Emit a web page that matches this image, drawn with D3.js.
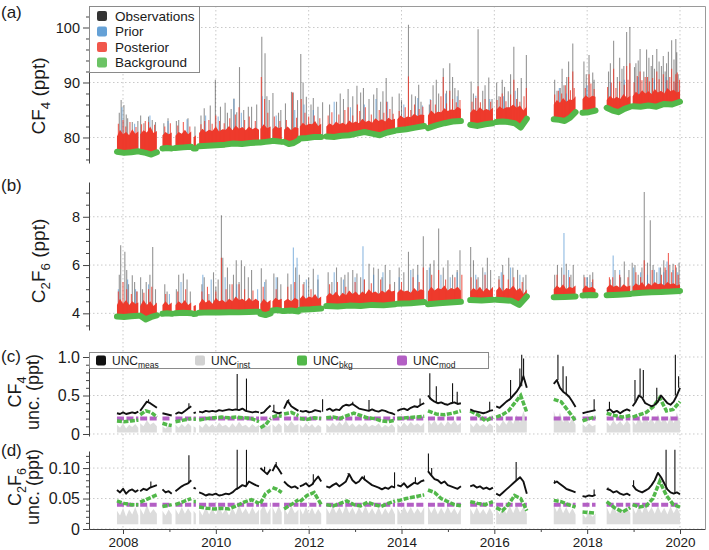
<!DOCTYPE html>
<html>
<head>
<meta charset="utf-8">
<script src="https://cdn.jsdelivr.net/npm/d3@7"></script>
<style>
  body { margin: 0; background: #fff; }
  svg { display: block; font-family: 'Liberation Sans', Arial, Helvetica, sans-serif; }
</style>
</head>
<body>
<svg id="chart" width="709" height="550"></svg>
<script>
// measurement periods (decimal year), shared by all four panels
const segs = [
  [2007.87, 2008.33], [2008.37, 2008.73], [2008.85, 2009.05], [2009.13, 2009.47],
  [2009.52, 2009.57], [2009.64, 2010.93], [2010.96, 2011.18], [2011.22, 2011.42],
  [2011.47, 2011.78], [2011.81, 2012.27], [2012.38, 2013.86], [2013.91, 2014.49],
  [2014.57, 2015.28], [2015.48, 2015.97], [2016.04, 2016.70], [2017.28, 2017.75],
  [2017.90, 2018.18], [2018.42, 2018.93], [2018.98, 2020.00]
];

// ---- (a) CF4, ppt : values per period, evenly spread over the period
const bkgA = [
  [77.4, 77.2, 77.3, 77.5], [77.4, 77.2, 76.9, 77.3], [78.0, 78.1, 78.0], [78.1, 78.2, 78.3],
  [78.0, 78.0], [78.4, 78.5, 78.6, 78.7, 78.9, 78.8, 79.0, 79.1], [79.1, 79.2, 79.3], [79.4, 79.3, 79.2],
  [79.2, 78.8, 79.0, 79.5], [79.8, 79.9, 80.1, 80.1], [80.2, 80.1, 80.3, 80.4, 80.7, 81.0, 80.7, 80.4, 80.9, 81.2],
  [81.3, 81.5, 81.8, 82.1], [81.7, 82.2, 82.6, 82.9, 83.0], [82.3, 82.1, 82.4, 82.6],
  [82.8, 82.9, 82.8, 82.6, 81.8, 83.4], [83.3, 83.2, 83.0, 83.6, 84.6], [84.5, 84.6, 84.9],
  [85.4, 84.9, 84.6, 85.2, 85.6], [85.7, 85.6, 85.8, 85.6, 86.1, 86.0, 86.5]
];
const postTopA = [
  [80.2, 81.4, 80.6, 81.0, 80.4, 81.5, 80.7, 81.1], [80.6, 81.3, 80.9, 82.0, 80.8, 81.2],
  [80.4, 81.0, 80.6, 80.9], [80.3, 81.0, 80.7, 81.4, 80.6, 81.1], [80.0, 80.4],
  [80.8, 81.6, 81.0, 81.4, 81.2, 82.0, 81.1, 81.5, 81.4, 82.1, 81.3, 82.2, 81.6, 81.9, 81.3, 82.0, 81.5, 81.8, 81.4],
  [81.6, 82.4, 81.7, 82.0], [81.5, 82.1, 81.7, 81.9], [81.4, 82.0, 81.3, 81.9, 81.7],
  [82.0, 82.7, 82.2, 82.5, 82.4, 83.0, 82.1, 82.5],
  [82.0, 82.6, 82.2, 82.9, 82.4, 82.7, 82.3, 83.1, 82.6, 82.9, 82.6, 83.4, 82.8, 83.1, 82.7, 83.5, 83.0, 83.3, 82.9, 83.6, 83.2, 83.4],
  [83.3, 84.0, 83.5, 83.8, 83.7, 84.3, 83.9, 84.2, 84.1],
  [84.0, 84.9, 84.3, 84.7, 84.6, 85.3, 84.8, 85.1, 85.0, 85.6, 85.2],
  [84.5, 85.2, 84.8, 85.5, 84.9, 85.2, 84.9, 85.4],
  [85.0, 85.7, 85.2, 85.5, 85.5, 86.0, 85.4, 85.8, 84.9, 85.7],
  [86.0, 86.8, 86.3, 87.2, 86.5, 86.9, 86.8, 87.5], [87.0, 87.7, 87.2, 87.6, 87.4],
  [86.8, 87.6, 87.0, 87.4, 87.0, 87.9, 87.2, 87.6],
  [87.5, 88.3, 87.8, 88.6, 88.0, 88.4, 87.9, 88.8, 88.2, 88.5, 88.0, 89.0, 88.4, 88.7, 88.2, 88.4]
];
// spikes: [year, peak]
const obsSpkA = [
  [2007.92, 84.5], [2007.96, 86.8], [2008.02, 85.9], [2008.07, 84.2], [2008.10, 83.5], [2008.20, 82.8],
  [2008.32, 83.0], [2008.38, 84.0], [2008.45, 82.6], [2008.55, 83.8], [2008.63, 83.2], [2008.70, 82.8],
  [2008.88, 82.6], [2008.97, 83.5], [2009.15, 83.0], [2009.20, 83.2], [2009.40, 83.5], [2009.55, 82.0],
  [2009.68, 84.0], [2009.75, 85.3], [2009.88, 85.8], [2009.99, 90.5], [2010.10, 85.6], [2010.20, 86.3],
  [2010.25, 84.5], [2010.33, 85.2], [2010.39, 87.1], [2010.45, 84.6], [2010.51, 92.8], [2010.60, 85.0],
  [2010.70, 85.6], [2010.77, 85.6], [2010.88, 86.0], [2010.99, 98.3], [2011.06, 95.3], [2011.10, 87.5],
  [2011.15, 86.8], [2011.23, 88.1], [2011.35, 84.5], [2011.40, 85.0], [2011.50, 86.2], [2011.63, 88.3],
  [2011.67, 88.2], [2011.76, 86.8], [2011.83, 95.2], [2011.88, 90.0], [2011.95, 87.4], [2012.05, 86.0],
  [2012.10, 87.2], [2012.20, 85.6], [2012.30, 86.4], [2012.45, 86.0], [2012.60, 86.5], [2012.68, 88.0],
  [2012.75, 87.0], [2012.85, 88.8], [2012.95, 87.5], [2013.04, 89.4], [2013.12, 88.2], [2013.18, 89.0],
  [2013.30, 87.0], [2013.40, 87.8], [2013.47, 89.0], [2013.55, 86.5], [2013.60, 88.4], [2013.67, 90.8],
  [2013.80, 87.4], [2013.95, 88.0], [2014.00, 86.8], [2014.15, 100.5], [2014.22, 87.8], [2014.30, 87.5],
  [2014.37, 89.6], [2014.42, 86.5], [2014.60, 86.0], [2014.68, 89.5], [2014.75, 90.5], [2014.80, 88.0],
  [2014.90, 92.6], [2014.97, 88.5], [2015.04, 93.5], [2015.10, 91.0], [2015.15, 89.0], [2015.22, 88.6],
  [2015.50, 90.2], [2015.55, 88.0], [2015.65, 99.7], [2015.75, 88.5], [2015.80, 89.5], [2015.88, 90.9],
  [2015.95, 87.0], [2016.05, 90.0], [2016.10, 87.5], [2016.17, 90.5], [2016.22, 89.2], [2016.30, 88.4],
  [2016.35, 91.5], [2016.42, 96.5], [2016.50, 89.0], [2016.58, 90.8], [2016.69, 95.0], [2017.30, 90.5],
  [2017.35, 88.5], [2017.42, 89.0], [2017.46, 92.5], [2017.50, 89.5], [2017.56, 91.0], [2017.60, 93.8],
  [2017.69, 97.1], [2017.93, 93.8], [2017.98, 91.5], [2018.04, 95.0], [2018.12, 91.8], [2018.15, 90.5],
  [2018.46, 92.0], [2018.50, 93.5], [2018.57, 97.6], [2018.65, 91.0], [2018.70, 94.5], [2018.75, 92.5],
  [2018.79, 93.0], [2018.85, 99.2], [2018.92, 100.1], [2019.02, 92.8], [2019.05, 93.5], [2019.10, 94.0],
  [2019.14, 96.1], [2019.22, 92.0], [2019.28, 96.0], [2019.33, 94.5], [2019.38, 93.0], [2019.41, 95.0],
  [2019.45, 92.5], [2019.50, 96.1], [2019.55, 93.8], [2019.60, 93.0], [2019.64, 94.8], [2019.68, 92.0],
  [2019.71, 93.5], [2019.75, 95.6], [2019.82, 97.7], [2019.87, 94.2], [2019.91, 97.9], [2019.93, 95.5],
  [2019.96, 91.5]
];
const priorSpkA = [
  [2007.98, 85.5], [2008.25, 82.5], [2008.58, 84.0], [2008.97, 83.0], [2009.38, 83.3], [2009.78, 84.0],
  [2010.05, 83.8], [2010.39, 87.0], [2010.55, 84.5], [2011.00, 87.5], [2011.30, 84.0], [2011.70, 85.0],
  [2011.90, 86.0], [2012.10, 85.0], [2012.55, 86.5], [2012.90, 85.5], [2013.20, 86.0], [2013.45, 87.0],
  [2013.70, 86.5], [2014.05, 86.0], [2014.35, 87.2], [2014.45, 85.8], [2014.62, 87.0], [2014.95, 88.0],
  [2015.20, 87.5], [2015.60, 87.6], [2015.90, 87.0], [2016.20, 87.5], [2016.45, 88.5], [2017.40, 89.0],
  [2017.55, 88.0], [2018.00, 89.5], [2018.50, 90.0], [2018.80, 90.5], [2019.10, 91.0], [2019.45, 90.5],
  [2019.70, 91.0], [2019.90, 90.0]
];
const postSpkA = [
  [2007.90, 82.5], [2008.00, 83.2], [2008.06, 82.0], [2008.15, 82.8], [2008.28, 81.9], [2008.40, 82.4],
  [2008.48, 83.0], [2008.55, 82.8], [2008.68, 82.3], [2008.90, 82.0], [2009.02, 82.6], [2009.18, 82.2],
  [2009.30, 82.8], [2009.44, 82.0], [2009.68, 82.4], [2009.76, 83.0], [2009.85, 83.2], [2009.92, 82.5],
  [2010.00, 84.0], [2010.08, 83.0], [2010.18, 82.6], [2010.30, 83.5], [2010.42, 84.2], [2010.50, 85.5],
  [2010.62, 83.2], [2010.72, 83.8], [2010.85, 83.0], [2010.98, 91.0], [2011.05, 87.0], [2011.12, 84.5],
  [2011.26, 83.8], [2011.38, 83.0], [2011.52, 83.2], [2011.65, 88.2], [2011.74, 83.6], [2011.84, 87.0],
  [2011.92, 84.5], [2012.00, 83.8], [2012.12, 84.0], [2012.24, 83.5], [2012.42, 84.0], [2012.50, 84.6],
  [2012.65, 84.2], [2012.78, 85.0], [2012.85, 85.5], [2012.95, 84.0], [2013.05, 86.0], [2013.10, 84.8],
  [2013.22, 85.5], [2013.35, 84.2], [2013.52, 85.0], [2013.62, 84.5], [2013.68, 86.5], [2013.75, 85.2],
  [2013.82, 84.3], [2013.95, 84.8], [2014.08, 85.5], [2014.15, 91.1], [2014.20, 85.0], [2014.28, 86.0],
  [2014.38, 85.2], [2014.46, 85.6], [2014.63, 86.8], [2014.73, 86.0], [2014.85, 87.5], [2014.90, 91.0],
  [2014.97, 86.2], [2015.04, 88.5], [2015.10, 87.0], [2015.18, 86.4], [2015.26, 86.8], [2015.52, 86.5],
  [2015.60, 87.2], [2015.65, 89.3], [2015.70, 86.4], [2015.80, 87.0], [2015.92, 86.5], [2016.06, 86.8],
  [2016.13, 87.4], [2016.17, 88.0], [2016.25, 86.6], [2016.35, 87.8], [2016.42, 90.5], [2016.48, 87.0],
  [2016.55, 86.5], [2016.64, 87.5], [2016.69, 89.0], [2017.30, 87.8], [2017.38, 88.5], [2017.45, 88.0],
  [2017.53, 89.5], [2017.60, 91.0], [2017.64, 88.6], [2017.69, 92.0], [2017.72, 89.0], [2017.96, 89.0],
  [2018.04, 91.5], [2018.08, 89.8], [2018.15, 88.8], [2018.44, 89.2], [2018.52, 90.0], [2018.57, 92.5],
  [2018.62, 89.0], [2018.70, 90.2], [2018.80, 89.6], [2018.85, 93.0], [2018.88, 90.5], [2018.92, 93.5],
  [2019.01, 90.0], [2019.08, 91.2], [2019.14, 92.0], [2019.18, 90.4], [2019.25, 91.0], [2019.30, 91.0],
  [2019.34, 90.2], [2019.41, 90.8], [2019.50, 92.0], [2019.55, 90.6], [2019.64, 91.5], [2019.72, 90.4],
  [2019.78, 91.0], [2019.82, 92.5], [2019.87, 90.2], [2019.91, 91.5], [2019.94, 91.8], [2019.99, 90.5]
];

// ---- (b) C2F6, ppt
const bkgB = [
  [3.87, 3.85, 3.88, 3.90], [3.90, 3.75, 3.85, 3.92], [3.98, 4.00, 3.98], [4.00, 4.02, 4.00],
  [3.97, 3.98], [4.02, 4.04, 4.03, 4.05, 4.04, 4.06, 4.07], [3.98, 3.93, 4.00], [4.12, 4.14, 4.10],
  [4.10, 4.12, 4.08], [4.15, 4.17, 4.20], [4.30, 4.28, 4.32, 4.30, 4.35, 4.33, 4.38], [4.40, 4.42, 4.47],
  [4.38, 4.42, 4.45, 4.48], [4.55, 4.53, 4.56], [4.56, 4.54, 4.52, 4.35, 4.70], [4.67, 4.68, 4.70],
  [4.74, 4.76, 4.75], [4.75, 4.77, 4.80], [4.82, 4.85, 4.87, 4.88, 4.90, 4.93]
];
const postTopB = [
  [4.35, 4.60, 4.40, 4.55, 4.35, 4.50, 4.40, 4.45], [4.30, 4.55, 4.35, 4.50, 4.30, 4.45],
  [4.35, 4.50, 4.35, 4.45], [4.35, 4.50, 4.40, 4.55, 4.35, 4.45], [4.30, 4.35],
  [4.40, 4.60, 4.45, 4.55, 4.40, 4.65, 4.50, 4.55, 4.45, 4.60, 4.50, 4.70, 4.55, 4.60, 4.50, 4.65, 4.50, 4.60, 4.50],
  [4.40, 4.60, 4.45, 4.55], [4.50, 4.65, 4.55, 4.60], [4.50, 4.60, 4.50, 4.65, 4.55],
  [4.60, 4.75, 4.60, 4.70, 4.65, 4.80, 4.60, 4.70],
  [4.70, 4.85, 4.75, 4.90, 4.70, 4.85, 4.75, 4.95, 4.80, 4.90, 4.75, 4.90, 4.80, 5.00, 4.85, 4.90, 4.80, 4.95, 4.85, 5.00, 4.90, 4.95],
  [4.85, 5.00, 4.90, 4.95, 4.85, 5.05, 4.90, 5.00, 4.95],
  [4.90, 5.10, 4.95, 5.05, 5.00, 5.15, 4.95, 5.05, 5.00, 5.10, 4.95],
  [4.90, 5.05, 4.95, 5.10, 4.90, 5.05, 4.95, 5.10],
  [4.95, 5.10, 4.90, 5.05, 5.00, 5.15, 4.95, 5.05, 4.80, 5.00],
  [5.00, 5.15, 5.05, 5.20, 5.00, 5.10, 5.05, 5.15], [5.00, 5.15, 5.05, 5.10, 5.00],
  [5.05, 5.20, 5.10, 5.15, 5.05, 5.20, 5.10, 5.15],
  [5.10, 5.25, 5.15, 5.30, 5.10, 5.25, 5.15, 5.30, 5.20, 5.25, 5.15, 5.30, 5.20, 5.25, 5.15, 5.20]
];
const obsSpkB = [
  [2007.92, 5.60], [2007.95, 6.82], [2008.04, 6.55], [2008.08, 5.80], [2008.12, 5.20], [2008.20, 5.58],
  [2008.25, 5.30], [2008.30, 4.90], [2008.38, 5.50], [2008.42, 5.00], [2008.50, 5.30], [2008.58, 5.60],
  [2008.64, 6.75], [2008.70, 5.00], [2008.90, 5.20], [2008.95, 4.90], [2009.15, 5.00], [2009.20, 5.60],
  [2009.30, 5.65], [2009.38, 5.40], [2009.45, 4.90], [2009.70, 5.20], [2009.75, 5.50], [2009.85, 4.80],
  [2009.95, 5.70], [2010.00, 5.10], [2010.05, 5.40], [2010.12, 8.06], [2010.15, 6.30], [2010.25, 5.90],
  [2010.30, 5.20], [2010.38, 5.60], [2010.44, 6.20], [2010.50, 5.30], [2010.55, 6.20], [2010.62, 5.95],
  [2010.70, 5.50], [2010.77, 5.79], [2010.98, 5.87], [2011.08, 5.40], [2011.25, 5.65], [2011.33, 5.50],
  [2011.40, 5.20], [2011.55, 5.65], [2011.62, 5.20], [2011.72, 5.90], [2011.80, 5.60], [2011.90, 5.30],
  [2012.00, 5.50], [2012.10, 5.85], [2012.20, 5.40], [2012.42, 5.70], [2012.50, 5.30], [2012.60, 5.90],
  [2012.70, 5.50], [2012.78, 5.60], [2012.85, 5.70], [2012.95, 5.80], [2013.04, 5.65], [2013.12, 5.50],
  [2013.20, 5.40], [2013.30, 6.05], [2013.40, 5.90], [2013.50, 5.85], [2013.58, 5.50], [2013.65, 6.00],
  [2013.75, 5.80], [2013.85, 5.30], [2013.95, 5.90], [2014.05, 5.70], [2014.15, 6.55], [2014.25, 5.85],
  [2014.35, 6.00], [2014.47, 7.19], [2014.55, 5.80], [2014.62, 6.05], [2014.70, 6.20], [2014.80, 7.51],
  [2014.90, 5.90], [2015.00, 6.20], [2015.10, 5.60], [2015.20, 5.80], [2015.26, 6.61], [2015.49, 6.75],
  [2015.55, 6.20], [2015.65, 5.50], [2015.75, 5.90], [2015.85, 6.30], [2015.92, 5.80], [2016.10, 5.55],
  [2016.18, 6.00], [2016.31, 6.30], [2016.40, 5.90], [2016.50, 5.80], [2016.62, 5.50], [2016.68, 5.60],
  [2017.30, 5.60], [2017.36, 6.00], [2017.45, 5.90], [2017.55, 6.05], [2017.65, 5.60], [2017.70, 6.00],
  [2017.93, 5.60], [2018.00, 5.50], [2018.06, 5.60], [2018.12, 5.70], [2018.50, 5.40], [2018.60, 5.80],
  [2018.72, 5.50], [2018.80, 6.15], [2018.90, 5.80], [2018.97, 6.10], [2019.03, 6.00], [2019.10, 5.60],
  [2019.18, 5.90], [2019.23, 9.03], [2019.30, 6.10], [2019.36, 7.86], [2019.42, 6.00], [2019.50, 5.70],
  [2019.58, 5.90], [2019.65, 6.20], [2019.70, 5.80], [2019.78, 6.00], [2019.85, 6.05], [2019.92, 5.90],
  [2019.98, 6.10]
];
const priorSpkB = [
  [2007.90, 5.00], [2008.10, 5.40], [2008.27, 5.00], [2008.55, 5.20], [2009.00, 4.80], [2009.25, 5.30],
  [2009.72, 5.60], [2009.90, 5.40], [2010.20, 5.50], [2010.45, 5.20], [2010.90, 5.00], [2011.05, 5.30],
  [2011.30, 5.50], [2011.67, 6.73], [2011.75, 6.30], [2011.95, 5.40], [2012.20, 5.60], [2012.55, 5.70],
  [2012.75, 5.40], [2013.00, 5.50], [2013.17, 6.78], [2013.40, 5.60], [2013.60, 5.70], [2013.95, 5.50],
  [2014.20, 5.80], [2014.35, 5.60], [2014.60, 5.90], [2014.85, 5.60], [2015.05, 5.50], [2015.20, 5.70],
  [2015.60, 5.60], [2015.80, 5.70], [2016.15, 5.70], [2016.35, 5.90], [2016.55, 5.60], [2017.50, 7.33],
  [2017.60, 5.80], [2018.00, 5.50], [2018.10, 5.30], [2018.56, 6.40], [2018.70, 5.80], [2019.00, 5.90],
  [2019.15, 5.70], [2019.30, 5.60], [2019.45, 5.80], [2019.55, 5.90], [2019.65, 5.70], [2019.72, 6.15],
  [2019.85, 5.80], [2019.95, 5.70]
];
const postSpkB = [
  [2007.90, 4.90], [2008.00, 5.30], [2008.08, 5.00], [2008.18, 4.80], [2008.30, 4.90], [2008.45, 4.85],
  [2008.55, 5.00], [2008.62, 5.10], [2008.92, 4.80], [2009.18, 4.90], [2009.35, 5.00], [2009.70, 4.90],
  [2009.82, 5.10], [2010.00, 4.90], [2010.12, 6.30], [2010.22, 5.00], [2010.35, 5.20], [2010.50, 5.20],
  [2010.62, 5.00], [2010.80, 4.95], [2011.02, 5.10], [2011.30, 5.00], [2011.55, 5.10], [2011.70, 5.30],
  [2011.88, 5.20], [2012.05, 5.00], [2012.45, 5.20], [2012.62, 5.30], [2012.80, 5.10], [2013.00, 5.30],
  [2013.20, 5.40], [2013.35, 5.25], [2013.55, 5.40], [2013.75, 5.20], [2014.00, 5.30], [2014.25, 5.50],
  [2014.38, 5.30], [2014.47, 5.90], [2014.65, 5.60], [2014.80, 5.80], [2014.95, 5.40], [2015.15, 5.50],
  [2015.30, 5.60], [2015.50, 5.50], [2015.62, 5.40], [2015.80, 5.60], [2016.10, 5.40], [2016.20, 5.60],
  [2016.30, 5.40], [2016.42, 5.50], [2016.60, 5.30], [2017.35, 5.60], [2017.50, 5.60], [2017.62, 5.50],
  [2017.95, 5.50], [2018.12, 5.40], [2018.48, 5.50], [2018.55, 5.50], [2018.70, 5.60], [2018.88, 5.50],
  [2019.05, 5.70], [2019.15, 5.50], [2019.23, 6.20], [2019.40, 5.80], [2019.60, 5.60], [2019.68, 5.90],
  [2019.75, 6.50], [2019.82, 5.70], [2019.90, 6.00], [2019.96, 5.60]
];

// ---- (c) CF4 uncertainties, ppt
const measC = [
  [0.27, 0.26, 0.28, 0.26, 0.27, 0.28, 0.27, 0.29], [0.30, 0.36, 0.42, 0.40, 0.37, 0.34],
  [0.27, 0.26, 0.25, 0.24], [0.26, 0.28, 0.27, 0.30, 0.33, 0.36], [0.27, 0.28],
  [0.29, 0.28, 0.30, 0.29, 0.30, 0.29, 0.31, 0.30, 0.31, 0.32, 0.31, 0.32, 0.31, 0.33, 0.30, 0.29, 0.28, 0.29, 0.28],
  [0.27, 0.28, 0.33, 0.37], [0.30, 0.28, 0.27, 0.28], [0.33, 0.43, 0.36, 0.33, 0.30],
  [0.30, 0.29, 0.30, 0.28, 0.29, 0.31, 0.30, 0.29],
  [0.31, 0.33, 0.30, 0.32, 0.31, 0.36, 0.38, 0.37, 0.39, 0.36, 0.33, 0.32, 0.31, 0.30, 0.32, 0.30, 0.29, 0.31, 0.30, 0.28, 0.27, 0.25],
  [0.30, 0.32, 0.33, 0.31, 0.34, 0.36, 0.35, 0.38, 0.40],
  [0.50, 0.45, 0.42, 0.40, 0.41, 0.39, 0.38, 0.40, 0.41, 0.39, 0.40],
  [0.32, 0.30, 0.29, 0.28, 0.27, 0.28, 0.30, 0.31],
  [0.36, 0.34, 0.38, 0.42, 0.45, 0.50, 0.55, 0.62, 0.75, 0.60],
  [0.65, 0.70, 0.60, 0.55, 0.52, 0.48, 0.42, 0.35], [0.27, 0.28, 0.29, 0.30, 0.31],
  [0.30, 0.32, 0.28, 0.30, 0.27, 0.30, 0.32, 0.30],
  [0.36, 0.42, 0.50, 0.47, 0.40, 0.38, 0.36, 0.38, 0.42, 0.50, 0.45, 0.40, 0.38, 0.42, 0.50, 0.60]
];
const measSpkC = [
  [2008.55, 0.45], [2009.42, 0.40], [2010.46, 0.78], [2010.66, 0.72], [2011.25, 0.38], [2011.57, 0.45],
  [2012.30, 0.45], [2012.95, 0.42], [2013.30, 0.44], [2014.40, 0.46], [2014.61, 0.79], [2014.75, 0.62],
  [2015.10, 0.66], [2015.20, 0.55], [2015.90, 0.42], [2016.35, 0.70], [2016.55, 0.85], [2016.59, 1.03],
  [2016.63, 0.98], [2017.37, 1.03], [2017.48, 0.88], [2017.55, 0.75], [2018.15, 0.45], [2018.48, 0.42],
  [2019.03, 0.70], [2019.14, 0.85], [2019.21, 0.83], [2019.50, 0.60], [2019.90, 1.03], [2019.97, 0.75]
];
const bkgC = [
  [0.17, 0.16, 0.17, 0.18], [0.25, 0.30, 0.28, 0.22], [0.14, 0.12, 0.11], [0.16, 0.18, 0.20], [0.19, 0.19],
  [0.18, 0.20, 0.21, 0.22, 0.21, 0.22, 0.21, 0.20, 0.16], [0.08, 0.12, 0.20], [0.22, 0.24, 0.23],
  [0.26, 0.28, 0.24], [0.20, 0.19, 0.21, 0.20], [0.21, 0.22, 0.20, 0.24, 0.27, 0.24, 0.21, 0.20, 0.17, 0.16, 0.18],
  [0.20, 0.21, 0.22, 0.23], [0.30, 0.26, 0.25, 0.27, 0.30], [0.30, 0.25, 0.17, 0.22],
  [0.22, 0.25, 0.30, 0.40, 0.50, 0.28], [0.45, 0.42, 0.30, 0.17], [0.17, 0.20, 0.22],
  [0.27, 0.24, 0.22, 0.24], [0.22, 0.25, 0.28, 0.35, 0.47, 0.30, 0.32, 0.42]
];
const instC = [
  [0.12, 0.08, 0.14, 0.07, 0.12, 0.09, 0.13, 0.08], [0.14, 0.10, 0.18, 0.12, 0.15, 0.10],
  [0.10, 0.07, 0.11, 0.08], [0.12, 0.08, 0.13, 0.09, 0.14, 0.10], [0.10, 0.08],
  [0.12, 0.08, 0.14, 0.09, 0.13, 0.08, 0.15, 0.10, 0.12, 0.08, 0.14, 0.09, 0.16, 0.10, 0.12, 0.08, 0.13, 0.09, 0.12],
  [0.10, 0.15, 0.09, 0.12], [0.13, 0.09, 0.14, 0.10], [0.15, 0.10, 0.17, 0.11, 0.13],
  [0.12, 0.08, 0.14, 0.09, 0.13, 0.08, 0.12, 0.09],
  [0.13, 0.09, 0.15, 0.10, 0.16, 0.11, 0.18, 0.10, 0.14, 0.09, 0.13, 0.10, 0.15, 0.09, 0.12, 0.10, 0.14, 0.08, 0.12, 0.09, 0.13, 0.08],
  [0.13, 0.09, 0.15, 0.10, 0.16, 0.11, 0.14, 0.10, 0.15],
  [0.20, 0.12, 0.18, 0.11, 0.16, 0.10, 0.17, 0.12, 0.18, 0.11, 0.15],
  [0.14, 0.09, 0.15, 0.10, 0.13, 0.09, 0.14, 0.10],
  [0.15, 0.10, 0.18, 0.12, 0.20, 0.13, 0.25, 0.15, 0.30, 0.16],
  [0.30, 0.18, 0.28, 0.15, 0.24, 0.14, 0.20, 0.12], [0.13, 0.09, 0.14, 0.10, 0.12],
  [0.16, 0.10, 0.18, 0.12, 0.17, 0.11, 0.18, 0.12],
  [0.18, 0.12, 0.22, 0.14, 0.25, 0.15, 0.20, 0.13, 0.26, 0.15, 0.22, 0.13, 0.24, 0.14, 0.28, 0.16]
];
const instFloorC = 0.02;
const modC = 0.2;

// ---- (d) C2F6 uncertainties, ppt
const measD = [
  [0.064, 0.060, 0.066, 0.058, 0.063, 0.065, 0.061, 0.064], [0.062, 0.066, 0.064, 0.068, 0.070, 0.072],
  [0.065, 0.060, 0.062, 0.058], [0.062, 0.066, 0.070, 0.073, 0.075, 0.080], [0.068, 0.066],
  [0.060, 0.058, 0.055, 0.057, 0.056, 0.058, 0.055, 0.056, 0.058, 0.057, 0.060, 0.065, 0.068, 0.072, 0.070, 0.078, 0.075, 0.072, 0.070],
  [0.100, 0.095, 0.090, 0.098], [0.095, 0.105, 0.098, 0.090], [0.078, 0.072, 0.068, 0.070, 0.066],
  [0.070, 0.072, 0.075, 0.070, 0.073, 0.080, 0.086, 0.078],
  [0.070, 0.068, 0.072, 0.075, 0.070, 0.074, 0.078, 0.090, 0.080, 0.075, 0.078, 0.085, 0.080, 0.076, 0.072, 0.070, 0.068, 0.065, 0.068, 0.066, 0.070, 0.068],
  [0.072, 0.070, 0.075, 0.068, 0.072, 0.076, 0.074, 0.078, 0.080],
  [0.095, 0.088, 0.082, 0.080, 0.075, 0.078, 0.072, 0.070, 0.068, 0.066, 0.070],
  [0.070, 0.072, 0.068, 0.070, 0.066, 0.068, 0.065, 0.068],
  [0.058, 0.055, 0.060, 0.065, 0.070, 0.075, 0.080, 0.085, 0.078, 0.058],
  [0.075, 0.078, 0.074, 0.070, 0.066, 0.064, 0.062, 0.060], [0.054, 0.053, 0.055, 0.054, 0.056],
  [0.066, 0.064, 0.060, 0.062, 0.058, 0.056, 0.058, 0.055],
  [0.072, 0.065, 0.062, 0.060, 0.063, 0.066, 0.072, 0.080, 0.092, 0.085, 0.075, 0.065, 0.060, 0.058, 0.060, 0.057]
];
const measSpkD = [
  [2008.60, 0.078], [2009.42, 0.121], [2010.46, 0.130], [2010.66, 0.130], [2011.05, 0.102], [2011.30, 0.110],
  [2012.10, 0.090], [2012.85, 0.092], [2013.20, 0.088], [2013.85, 0.093], [2014.30, 0.085], [2014.58, 0.124],
  [2014.65, 0.100], [2016.47, 0.110], [2017.30, 0.080], [2018.15, 0.065], [2018.45, 0.068], [2019.00, 0.080],
  [2019.70, 0.130], [2019.89, 0.130]
];
const bkgD = [
  [0.046, 0.042, 0.040, 0.040], [0.044, 0.048, 0.052, 0.056], [0.037, 0.038, 0.040], [0.040, 0.045, 0.050],
  [0.045, 0.045], [0.036, 0.034, 0.033, 0.034, 0.033, 0.038, 0.044, 0.048, 0.042], [0.042, 0.058, 0.064],
  [0.068, 0.065, 0.060], [0.033, 0.040, 0.048], [0.045, 0.055, 0.060, 0.040],
  [0.040, 0.038, 0.042, 0.046, 0.040, 0.038, 0.044, 0.040, 0.037, 0.042, 0.046], [0.046, 0.050, 0.053, 0.056],
  [0.064, 0.060, 0.050, 0.045, 0.040, 0.038], [0.045, 0.042, 0.040, 0.045],
  [0.035, 0.030, 0.040, 0.055, 0.050, 0.030], [0.047, 0.045, 0.040, 0.036], [0.028, 0.027, 0.026],
  [0.045, 0.035, 0.028, 0.035], [0.040, 0.036, 0.038, 0.050, 0.078, 0.055, 0.040, 0.036]
];
const instD = [
  [0.030, 0.022, 0.035, 0.020, 0.032, 0.024, 0.036, 0.022], [0.034, 0.024, 0.040, 0.026, 0.033, 0.025],
  [0.030, 0.022, 0.032, 0.024], [0.033, 0.024, 0.036, 0.025, 0.034, 0.026], [0.030, 0.025],
  [0.032, 0.022, 0.036, 0.024, 0.034, 0.022, 0.038, 0.025, 0.033, 0.022, 0.035, 0.024, 0.040, 0.026, 0.034, 0.024, 0.036, 0.025, 0.032],
  [0.030, 0.040, 0.025, 0.035], [0.036, 0.025, 0.038, 0.027], [0.034, 0.024, 0.038, 0.026, 0.032],
  [0.034, 0.024, 0.036, 0.025, 0.035, 0.024, 0.033, 0.025],
  [0.035, 0.025, 0.038, 0.026, 0.036, 0.025, 0.040, 0.026, 0.035, 0.024, 0.036, 0.026, 0.038, 0.025, 0.034, 0.024, 0.036, 0.023, 0.034, 0.025, 0.035, 0.024],
  [0.035, 0.025, 0.037, 0.026, 0.036, 0.025, 0.034, 0.026, 0.036],
  [0.038, 0.026, 0.036, 0.024, 0.035, 0.025, 0.037, 0.026, 0.034, 0.024, 0.035],
  [0.034, 0.024, 0.036, 0.025, 0.033, 0.024, 0.035, 0.025],
  [0.034, 0.024, 0.036, 0.025, 0.038, 0.026, 0.040, 0.027, 0.036, 0.025],
  [0.040, 0.028, 0.038, 0.026, 0.036, 0.025, 0.034, 0.024], [0.026, 0.018, 0.028, 0.020, 0.025],
  [0.036, 0.024, 0.038, 0.026, 0.035, 0.025, 0.037, 0.026],
  [0.036, 0.025, 0.038, 0.026, 0.040, 0.027, 0.036, 0.025, 0.038, 0.026, 0.035, 0.024, 0.037, 0.026, 0.036, 0.025]
];
const instFloorD = 0.008;
const modD = 0.04;

// ---- axes
const yearTicks = [2008, 2010, 2012, 2014, 2016, 2018, 2020];
const yearMinor = [2009, 2011, 2013, 2015, 2017, 2019];
const ticksA = [80, 90, 100], minorA = [76, 78, 82, 84, 86, 88, 92, 94, 96, 98, 102];
const ticksB = [4, 6, 8], minorB = [3.5, 4.5, 5, 5.5, 6.5, 7, 7.5, 8.5, 9];
const ticksC = [0, 0.5, 1.0], labelsC = ['0', '0.5', '1.0'], minorC = [0.1, 0.2, 0.3, 0.4, 0.6, 0.7, 0.8, 0.9];
const ticksD = [0, 0.05, 0.10], labelsD = ['0', '0.05', '0.10'];
const minorD = [0.01, 0.02, 0.03, 0.04, 0.06, 0.07, 0.08, 0.09, 0.11, 0.12];

const legendA = [['Observations', '#111'], ['Prior', '#4a90cf'], ['Posterior', '#ee3a2c'], ['Background', '#52b84a']];
const legendC = [['meas', '#111'], ['inst', '#d2d2d2'], ['bkg', '#52b84a'], ['mod', '#b35fc4']];

const svg = d3.select('#chart');
const L = 89, R = 705, TOP = 6, BOT = 529;

const x = d3.scaleLinear().domain([2007.2675, 2020.5386]).range([L, R]);
const yA = d3.scaleLinear().domain([75.36, 103.91]).range([163, TOP]);
const yB = d3.scaleLinear().domain([3.31, 9.44]).range([330, 182]);
const yC = d3.scaleLinear().domain([-0.026, 1.065]).range([436, 352]);
const yD = d3.scaleLinear().domain([0, 0.128]).range([BOT, 451]);

// spread each period's values over that period; null breaks the line between periods
function expand(bySeg) {
  const pts = [];
  bySeg.forEach((vals, k) => {
    const t = d3.scaleLinear().domain([0, vals.length - 1]).range(segs[k]);
    vals.forEach((v, i) => pts.push([t(i), v]));
    pts.push(null);
  });
  return pts;
}
const nearestValue = (pts, t) => d3.least(pts.filter(Boolean), p => Math.abs(p[0] - t))[1];

// grid
const grid = svg.append('g').attr('stroke', '#c9c9c9').attr('stroke-width', 1).attr('stroke-dasharray', '1.5,2.5');
grid.selectAll('line.v').data(yearTicks).join('line').attr('class', 'v')
  .attr('x1', d => x(d)).attr('x2', d => x(d)).attr('y1', TOP).attr('y2', BOT);
[[yA, ticksA], [yB, ticksB], [yC, ticksC], [yD, ticksD]].forEach(([y, ticks]) => {
  grid.append('g').selectAll('line').data(ticks).join('line')
    .attr('x1', L).attr('x2', R).attr('y1', d => y(d)).attr('y2', d => y(d));
});

function drawConc(y, bkgVals, topVals, obs, prior, post) {
  const g = svg.append('g');
  const bkg = expand(bkgVals);
  const top = expand(topVals);
  const base = t => nearestValue(bkg, t);

  const spikes = (data, color) => {
    g.append('g').selectAll('line').data(data).join('line')
      .attr('x1', d => x(d[0])).attr('x2', d => x(d[0]))
      .attr('y1', d => y(base(d[0]))).attr('y2', d => y(d[1]))
      .attr('stroke', color).attr('stroke-width', 1.1);
  };
  spikes(obs, 'rgba(0,0,0,0.42)');
  spikes(prior, 'rgba(66,139,205,0.6)');

  const area = d3.area()
    .defined(d => d != null)
    .x(d => x(d[0]))
    .y0(d => y(base(d[0])))
    .y1(d => y(d[1]));
  g.append('path').datum(top).attr('fill', '#ee3a2c').attr('d', area);
  spikes(post, 'rgba(238,58,44,0.8)');

  const line = d3.line().defined(d => d != null).x(d => x(d[0])).y(d => y(d[1]));
  g.append('path').datum(bkg)
    .attr('fill', 'none')
    .attr('stroke', '#52b84a')
    .attr('stroke-width', 6)
    .attr('stroke-linejoin', 'round')
    .attr('stroke-linecap', 'round')
    .attr('d', line);
}

function drawUnc(y, measVals, spk, bkgVals, instVals, floor, mod) {
  const g = svg.append('g');
  const line = d3.line().defined(d => d != null).x(d => x(d[0])).y(d => y(d[1]));
  const meas = expand(measVals);

  const inst = d3.area()
    .defined(d => d != null)
    .x(d => x(d[0]))
    .y0(y(floor))
    .y1(d => y(d[1]));
  g.append('path').datum(expand(instVals)).attr('fill', '#dcdcdc').attr('d', inst);

  const modPts = segs.flatMap(s => [[s[0], mod], [s[1], mod], null]);
  g.append('path').datum(modPts)
    .attr('fill', 'none')
    .attr('stroke', '#b35fc4')
    .attr('stroke-width', 4)
    .attr('stroke-dasharray', '7,2.5')
    .attr('d', line);

  g.append('path').datum(expand(bkgVals))
    .attr('fill', 'none')
    .attr('stroke', '#52b84a')
    .attr('stroke-width', 3.5)
    .attr('stroke-dasharray', '5,1.5')
    .attr('d', line);

  g.append('path').datum(meas)
    .attr('fill', 'none')
    .attr('stroke', '#111')
    .attr('stroke-width', 1.9)
    .attr('stroke-linejoin', 'round')
    .attr('d', line);

  g.append('g').selectAll('line').data(spk).join('line')
    .attr('x1', d => x(d[0])).attr('x2', d => x(d[0]))
    .attr('y1', d => y(nearestValue(meas, d[0]))).attr('y2', d => y(d[1]))
    .attr('stroke', '#111').attr('stroke-width', 1.1);
}

drawConc(yA, bkgA, postTopA, obsSpkA, priorSpkA, postSpkA);
drawConc(yB, bkgB, postTopB, obsSpkB, priorSpkB, postSpkB);
drawUnc(yC, measC, measSpkC, bkgC, instC, instFloorC, modC);
drawUnc(yD, measD, measSpkD, bkgD, instD, instFloorD, modD);

// frame (top and right)
svg.append('path').attr('fill', 'none').attr('stroke', '#9a9a9a').attr('stroke-width', 1)
  .attr('d', `M${L},${TOP + 0.5}H${R + 0.5}V${BOT}`);

// axes
const styleAxis = g => {
  g.attr('font-family', null).attr('font-size', null).attr('color', '#444');
  g.selectAll('text').attr('fill', '#1a1a1a');
};
[[yA, ticksA, null, minorA, 14.5], [yB, ticksB, null, minorB, 14.5],
 [yC, ticksC, labelsC, minorC, 16], [yD, ticksD, labelsD, minorD, 16]]
  .forEach(([y, ticks, labels, minor, size]) => {
    svg.append('g').attr('transform', `translate(${L},0)`).style('font-size', size + 'px')
      .call(d3.axisLeft(y).tickValues(ticks).tickSize(6).tickSizeOuter(0)
        .tickFormat((d, i) => (labels ? labels[i] : d)))
      .call(styleAxis);
    svg.append('g').attr('transform', `translate(${L},0)`)
      .call(d3.axisLeft(y).tickValues(minor).tickSize(3).tickFormat(''))
      .call(styleAxis)
      .call(g => g.select('.domain').remove());
  });
svg.append('g').attr('transform', `translate(0,${BOT})`).style('font-size', '13.5px')
  .call(d3.axisBottom(x).tickValues(yearTicks).tickSize(5).tickSizeOuter(0).tickFormat(d3.format('d')))
  .call(styleAxis);
svg.append('g').attr('transform', `translate(0,${BOT})`)
  .call(d3.axisBottom(x).tickValues(yearMinor).tickSize(3).tickFormat(''))
  .call(styleAxis)
  .call(g => g.select('.domain').remove());

// axis titles with subscripts
function title(tx, ty, parts, size) {
  const t = svg.append('text')
    .attr('transform', `translate(${tx},${ty}) rotate(-90)`)
    .attr('text-anchor', 'middle')
    .attr('font-size', size)
    .attr('fill', '#1a1a1a');
  let shift = 0;
  parts.forEach(([s, sub]) => {
    const dy = (sub ? 5 : 0) - shift;
    shift = sub ? 5 : 0;
    t.append('tspan').text(s)
      .attr('font-size', sub ? size * 0.7 : size)
      .attr('dy', dy);
  });
}
title(45, 96, [['CF'], ['4', true], [' (ppt)']], 19);
title(45, 261, [['C'], ['2', true], ['F'], ['6', true], [' (ppt)']], 19);
title(21, 392, [['CF'], ['4', true]], 18);
title(39, 392, [['unc. (ppt)']], 18);
title(21, 487, [['C'], ['2', true], ['F'], ['6', true]], 18);
title(39, 487, [['unc. (ppt)']], 18);

// panel letters
[['(a)', 18], ['(b)', 191], ['(c)', 362], ['(d)', 456]].forEach(([s, ty]) => {
  svg.append('text').attr('x', 1).attr('y', ty).attr('font-size', 17).attr('fill', '#1a1a1a').text(s);
});

// legend (a)
const legA = svg.append('g');
legA.append('rect').attr('x', L + 0.5).attr('y', TOP + 0.5).attr('width', 110).attr('height', 66)
  .attr('fill', '#fff').attr('stroke', '#8a8a8a');
legA.selectAll('g').data(legendA).join('g')
  .attr('transform', (d, i) => `translate(${L + 8},${16 + i * 15.5})`)
  .each(function (d) {
    const g = d3.select(this);
    g.append('rect').attr('x', 0).attr('y', -5).attr('width', 10).attr('height', 10).attr('rx', 2)
      .attr('fill', d[1]).attr('opacity', 0.85);
    g.append('text').attr('x', 18).attr('dy', '0.36em').attr('font-size', 13.5).attr('fill', '#1a1a1a').text(d[0]);
  });

// legend (c)
const legC = svg.append('g');
legC.append('rect').attr('x', L + 0.5).attr('y', 352.5).attr('width', 399).attr('height', 16)
  .attr('fill', '#fff').attr('stroke', '#8a8a8a');
const legCx = [96, 195, 297, 397];
legC.selectAll('g').data(legendC).join('g')
  .attr('transform', (d, i) => `translate(${legCx[i]},360.5)`)
  .each(function (d) {
    const g = d3.select(this);
    g.append('rect').attr('x', 0).attr('y', -5).attr('width', 10).attr('height', 10).attr('rx', 2)
      .attr('fill', d[1]);
    const t = g.append('text').attr('x', 16).attr('dy', '0.36em').attr('font-size', 12).attr('fill', '#1a1a1a');
    t.append('tspan').text('UNC');
    t.append('tspan').text(d[0]).attr('font-size', 8.5).attr('dy', 3);
  });
</script>
</body>
</html>
